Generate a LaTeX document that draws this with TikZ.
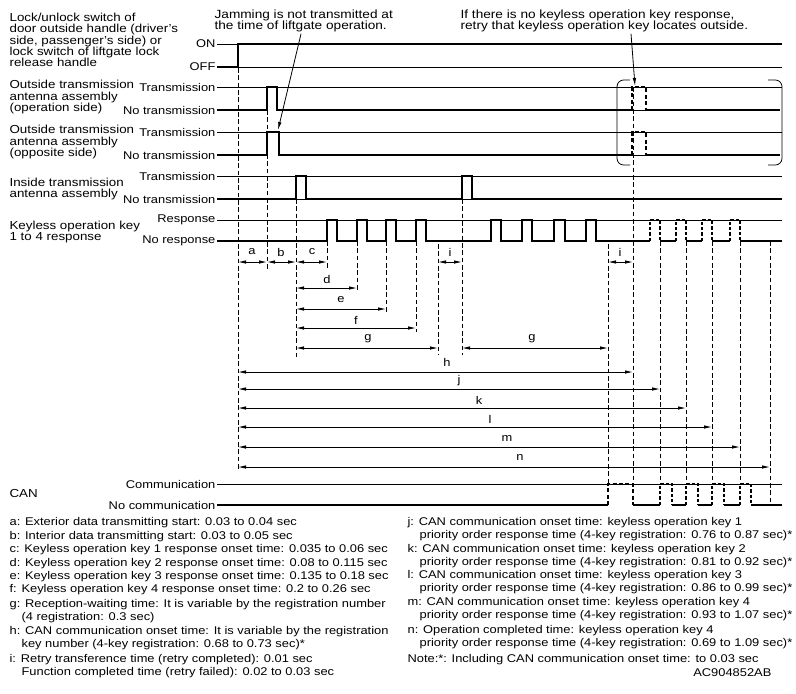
\documentclass[tikz,border=0pt]{standalone}
\usepackage{fontspec}
\setmainfont{Liberation Sans}[FakeStretch=1.15]
\usetikzlibrary{arrows.meta}

\tikzset{
  every node/.style={font=\fontsize{8.4}{8.3}\selectfont, inner sep=1pt},
  lvl/.style={anchor=east},
  grp/.style={anchor=west, align=left, font=\fontsize{8.7}{8.4}\selectfont},
  note/.style={anchor=north west, align=left, font=\fontsize{8.9}{8.6}\selectfont},
  legend/.style={anchor=base west, align=left, font=\fontsize{8.4}{9.4}\selectfont},
  ref/.style={line width=0.6pt},
  sig/.style={line width=2pt},
  sigdash/.style={line width=2pt, dash pattern=on 3pt off 1.8pt},
  sigdot/.style={line width=1.3pt, dash pattern=on 2.5pt off 1.5pt},
  guide/.style={line width=0.5pt, dash pattern=on 3.5pt off 2pt},
  dim/.style={line width=0.6pt},
}

\begin{document}
\begin{tikzpicture}[x=0.75pt, y=-0.75pt, >={Latex[length=6pt,width=2.6pt]}]
\useasboundingbox (0,0) rectangle (796,693);

% signal names
\node[grp] (lock) at (8,40) {Lock/unlock switch of\\door outside handle (driver's\\side, passenger's side) or\\lock switch of liftgate lock\\release handle};
\node[grp] (opside) at (8,97) {Outside transmission\\antenna assembly\\(operation side)};
\node[grp] (oppside) at (8,142) {Outside transmission\\antenna assembly\\(opposite side)};
\node[grp] (inside) at (8,189) {Inside transmission\\antenna assembly};
\node[grp] (keyless) at (8,232) {Keyless operation key\\1 to 4 response};
\node[grp] (can) at (8,493) {CAN};

% levels
\node[lvl] (on) at (217,44) {ON};
\node[lvl] (off) at (217,67) {OFF};
\node[lvl] (optx) at (217,87) {Transmission};
\node[lvl] (opno) at (217,110) {No transmission};
\node[lvl] (opptx) at (217,132) {Transmission};
\node[lvl] (oppno) at (217,155) {No transmission};
\node[lvl] (intx) at (217,176) {Transmission};
\node[lvl] (inno) at (217,199) {No transmission};
\node[lvl] (keyres) at (217,220) {Response};
\node[lvl] (keyno) at (217,241) {No response};
\node[lvl] (cancom) at (217,484) {Communication};
\node[lvl] (canno) at (217,505) {No communication};

% reference lines
\draw[ref] (on.east) -- (782,44);
\draw[ref] (off.east) -- (782,67);
\draw[ref] (optx.east) -- (782,87);
\draw[ref] (opptx.east) -- (782,132);
\draw[ref] (intx.east) -- (782,176);
\draw[ref] (inno.east) -- (782,199);
\draw[ref] (keyres.east) -- (782,220);
\draw[ref] (cancom.east) -- (782,484);
\draw[ref] (632,110) -- (646,110);
\draw[ref] (632,155) -- (646,155);

% switch
\draw[sig] (off.east) -- (238,67) -- (238,44) -- (782,44);
% outside antenna, operation side
\draw[sig] (opno.east) -- (267,110) -- (267,87) -- (277,87) -- (277,110) -- (632,110);
\draw[sig] (646,110) -- (780,110);
\draw[sigdash] (632,110) -- (632,87) -- (646,87) -- (646,110);
% outside antenna, opposite side
\draw[sig] (oppno.east) -- (267,155) -- (267,132) -- (279,132) -- (279,155) -- (632,155);
\draw[sig] (646,155) -- (780,155);
\draw[sigdash] (632,155) -- (632,132) -- (646,132) -- (646,155);
% inside antenna
\draw[sig] (inno.east) -- (296,199) -- (296,176) -- (306,176) -- (306,199) -- (462,199)
  -- (462,176) -- (472,176) -- (472,199) -- (782,199);
% key response
\draw[sig] (keyno.east) -- (327,241) -- (327,220) -- (337,220) -- (337,241)
  -- (357,241) -- (357,220) -- (367,220) -- (367,241)
  -- (386,241) -- (386,220) -- (396,220) -- (396,241)
  -- (416,241) -- (416,220) -- (426,220) -- (426,241)
  -- (491,241) -- (491,220) -- (501,220) -- (501,241)
  -- (522,241) -- (522,220) -- (532,220) -- (532,241)
  -- (554,241) -- (554,220) -- (565,220) -- (565,241)
  -- (586,241) -- (586,220) -- (596,220) -- (596,241) -- (650,241);
\draw[sig] (660,241) -- (676,241);
\draw[sig] (686,241) -- (702,241);
\draw[sig] (712,241) -- (730,241);
\draw[sig] (740,241) -- (782,241);
\draw[sigdot] (650,241) -- (650,220) -- (660,220) -- (660,241);
\draw[sigdot] (676,241) -- (676,220) -- (686,220) -- (686,241);
\draw[sigdot] (702,241) -- (702,220) -- (712,220) -- (712,241);
\draw[sigdot] (730,241) -- (730,220) -- (740,220) -- (740,241);
% CAN
\draw[sig] (canno.east) -- (608,505);
\draw[sig] (633,505) -- (660,505);
\draw[sig] (672,505) -- (686,505);
\draw[sig] (698,505) -- (712,505);
\draw[sig] (724,505) -- (740,505);
\draw[sig] (751,505) -- (782,505);
\draw[sigdash] (608,505) -- (608,484) -- (633,484) -- (633,505);
\draw[sigdot] (660,505) -- (660,484) -- (672,484) -- (672,505);
\draw[sigdot] (686,505) -- (686,484) -- (698,484) -- (698,505);
\draw[sigdot] (712,505) -- (712,484) -- (724,484) -- (724,505);
\draw[sigdot] (740,505) -- (740,484) -- (751,484) -- (751,505);

% retry brackets
\draw[ref, rounded corners=5pt] (630,80) -- (617,80) -- (617,165) -- (630,165);
\draw[ref, rounded corners=5pt] (768,80) -- (782,80) -- (782,165) -- (768,165);

% guide lines
\draw[guide] (238,68) -- (238,470);
\draw[guide] (267,110) -- (267,271);
\draw[guide] (296,199) -- (296,357);
\draw[guide] (327,241) -- (327,270);
\draw[guide] (357,241) -- (357,290);
\draw[guide] (386,241) -- (386,313);
\draw[guide] (416,241) -- (416,332);
\draw[guide] (438,244) -- (438,355);
\draw[guide] (462,199) -- (462,355);
\draw[guide] (608,244) -- (608,484);
\draw[guide] (633,87) -- (633,484);
\draw[guide] (660,241) -- (660,484);
\draw[guide] (686,241) -- (686,484);
\draw[guide] (712,241) -- (712,484);
\draw[guide] (740,241) -- (740,484);
\draw[guide] (770,241) -- (770,503);

% time spans
\draw[dim,<->] (238,262) -- (267,262);  \node (ta) at (252,252) {a};
\draw[dim,<->] (267,262) -- (296,262);  \node (tb) at (281,252) {b};
\draw[dim,<->] (296,262) -- (327,262);  \node (tc) at (312,252) {c};
\draw[dim,<->] (438,262) -- (462,262);  \node (ti) at (450,252) {i};
\draw[dim,<->] (608,262) -- (633,262);  \node (ti2) at (620,252) {i};
\draw[dim,<->] (296,288) -- (357,288);  \node (td) at (327,279) {d};
\draw[dim,<->] (296,309) -- (386,309);  \node (te) at (341,300) {e};
\draw[dim,<->] (296,328) -- (416,328);  \node (tf) at (356,320) {f};
\draw[dim,<->] (296,348) -- (438,348);  \node (tg) at (368,339) {g};
\draw[dim,<->] (462,348) -- (608,348);  \node (tg2) at (532,339) {g};
\draw[dim,<->] (238,372) -- (633,372);  \node (th) at (447,362) {h};
\draw[dim,<->] (238,389) -- (660,389);  \node (tj) at (459,381) {j};
\draw[dim,<->] (238,408) -- (686,408);  \node (tk) at (479,400) {k};
\draw[dim,<->] (238,427) -- (712,427);  \node (tl) at (490,419) {l};
\draw[dim,<->] (238,447) -- (740,447);  \node (tm) at (507,438) {m};
\draw[dim,<->] (238,467) -- (770,467);  \node (tn) at (520,457) {n};

% notes with leaders
\node[note] (jam) at (213,8) {Jamming is not transmitted at\\the time of liftgate operation.};
\node[note] (retry) at (459,8) {If there is no keyless operation key response,\\retry that keyless operation key locates outside.};
\draw[dim,->] ([xshift=-2pt]jam.south) -- (278,130);
\draw[dim,->] ([xshift=20pt]retry.south) -- (635,86);

% legend (base = last line)
\node[legend] (lga) at (8,525) {a: Exterior data transmitting start: 0.03 to 0.04 sec};
\node[legend] (lgb) at (8,539) {b: Interior data transmitting start: 0.03 to 0.05 sec};
\node[legend] (lgc) at (8,552) {c: Keyless operation key 1 response onset time: 0.035 to 0.06 sec};
\node[legend] (lgd) at (8,566) {d: Keyless operation key 2 response onset time: 0.08 to 0.115 sec};
\node[legend] (lge) at (8,579) {e: Keyless operation key 3 response onset time: 0.135 to 0.18 sec};
\node[legend] (lgf) at (8,592) {f: Keyless operation key 4 response onset time: 0.2 to 0.26 sec};
\node[legend] (lgg) at (8,620) {g: Reception-waiting time: It is variable by the registration number\\\hspace*{9pt}(4 registration: 0.3 sec)};
\node[legend] (lgh) at (8,647) {h: CAN communication onset time: It is variable by the registration\\\hspace*{9pt}key number (4-key registration: 0.68 to 0.73 sec)*};
\node[legend] (lgi) at (8,675) {i: Retry transference time (retry completed): 0.01 sec\\\hspace*{9pt}Function completed time (retry failed): 0.02 to 0.03 sec};
\node[legend] (lgj) at (406,538) {j: CAN communication onset time: keyless operation key 1\\\hspace*{9pt}priority order response time (4-key registration: 0.76 to 0.87 sec)*};
\node[legend] (lgk) at (406,565) {k: CAN communication onset time: keyless operation key 2\\\hspace*{9pt}priority order response time (4-key registration: 0.81 to 0.92 sec)*};
\node[legend] (lgl) at (406,591) {l: CAN communication onset time: keyless operation key 3\\\hspace*{9pt}priority order response time (4-key registration: 0.86 to 0.99 sec)*};
\node[legend] (lgm) at (406,618) {m: CAN communication onset time: keyless operation key 4\\\hspace*{9pt}priority order response time (4-key registration: 0.93 to 1.07 sec)*};
\node[legend] (lgn) at (406,646) {n: Operation completed time: keyless operation key 4\\\hspace*{9pt}priority order response time (4-key registration: 0.69 to 1.09 sec)*};
\node[legend] (lgnote) at (406,662) {Note:*: Including CAN communication onset time: to 0.03 sec};
\node[anchor=base east] (code) at (773,676) {AC904852AB};
\end{tikzpicture}
\end{document}
